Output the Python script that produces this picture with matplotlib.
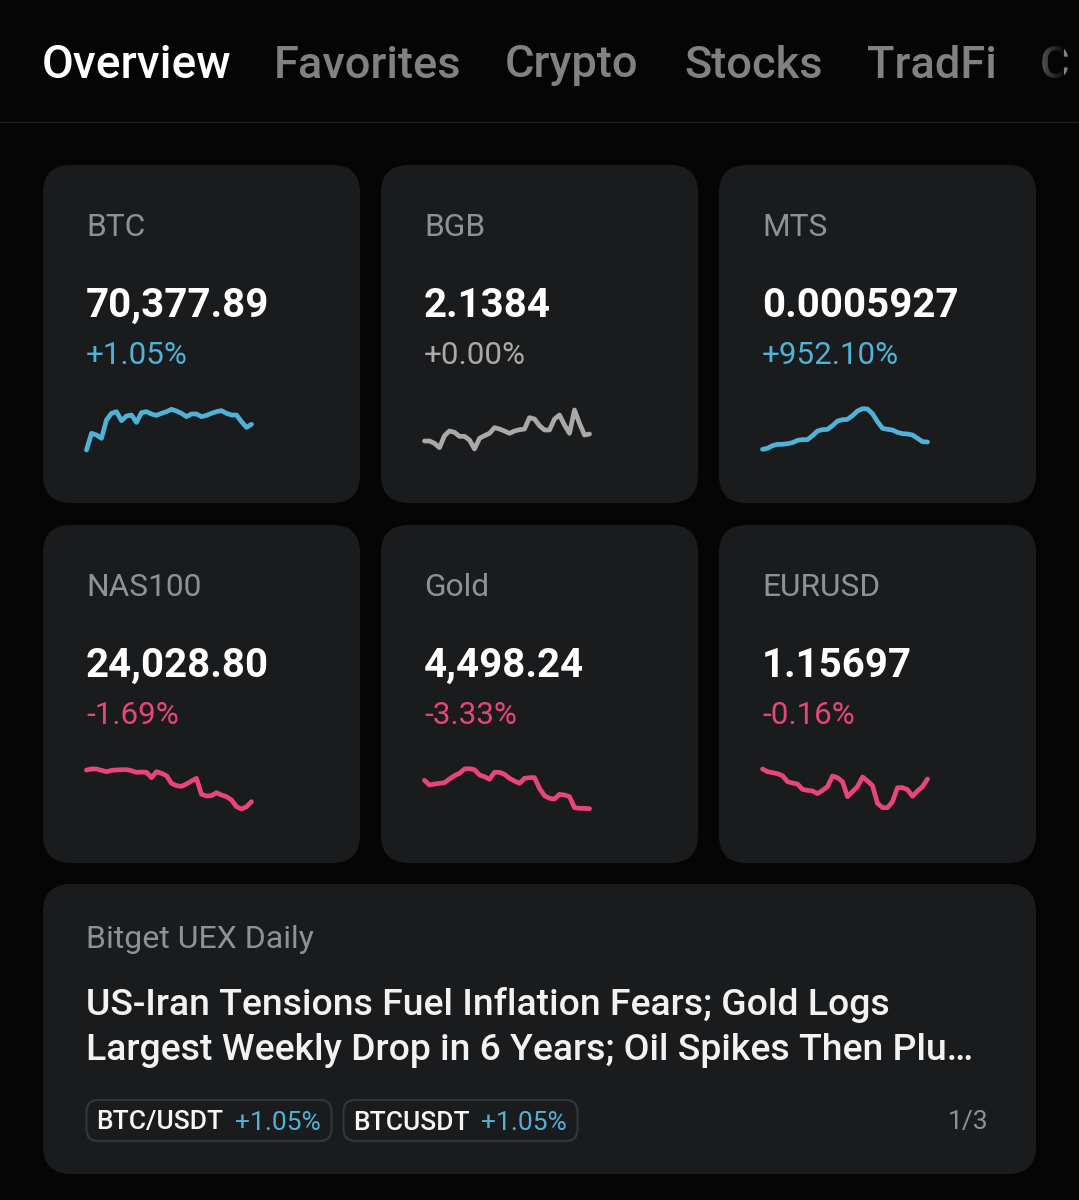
import matplotlib
matplotlib.use("Agg")
import matplotlib.pyplot as plt
from matplotlib.patches import FancyBboxPatch, Rectangle
import numpy as np

tabs = ["Overview", "Favorites", "Crypto", "Stocks", "TradFi", "C"]
symbols = ["BTC", "BGB", "MTS", "NAS100", "Gold", "EURUSD"]
prices = ["70,377.89", "2.1384", "0.0005927", "24,028.80", "4,498.24", "1.15697"]
changes = ["+1.05%", "+0.00%", "+952.10%", "-1.69%", "-3.33%", "-0.16%"]

btc = [30,80,75,65,120,140,145,118,132,135,113,142,145,138,134,140,145,152,147,140,130,138,138,130,134,140,145,148,140,135,135,115,98,107]
bgb = [57,57,50,37,73,87,83,71,71,60,33,65,73,80,97,93,87,80,87,91,93,127,123,103,90,90,123,135,105,80,150,110,75,78]
mts = [32,35,43,47,47,49,52,59,61,61,73,87,91,92,103,117,121,122,133,147,154,153,139,115,95,92,90,83,79,78,75,65,55,54]
nas = [150,153,153,149,145,149,150,151,151,148,143,144,143,127,145,140,133,110,103,101,108,117,125,77,72,73,82,75,70,60,40,33,40,55]
gold = [119,105,108,110,112,123,133,140,153,154,151,135,130,122,143,143,137,125,117,110,125,127,127,95,73,65,63,77,75,70,37,35,35,34]
eur = [153,145,142,139,133,115,111,108,92,89,87,79,89,100,132,127,115,70,85,100,129,117,103,50,37,37,55,97,97,91,71,87,100,123]
series = [btc, bgb, mts, nas, gold, eur]

news_source = "Bitget UEX Daily"
news_lines = ["US-Iran Tensions Fuel Inflation Fears; Gold Logs",
              "Largest Weekly Drop in 6 Years; Oil Spikes Then Plu…"]
pills = [("BTC/USDT", "+1.05%"), ("BTCUSDT", "+1.05%")]
pager = "1/3"

BG = "#050506"
CARD = "#1a1b1d"
BLUE = "#4fb2d6"
PINK = "#e8457b"
GREY = "#a9a9a9"
LABEL = "#909193"
TAB = "#808183"

plt.rcParams["font.family"] = ["Roboto", "DejaVu Sans"]
W, H = 1079, 1200
fig = plt.figure(figsize=(W / 100, H / 100), dpi=100, facecolor=BG)
ui = fig.add_axes([0, 0, 1, 1])
ui.set_xlim(0, W)
ui.set_ylim(H, 0)
ui.axis("off")


def card(x, y, w, h, r=28):
    ui.add_patch(FancyBboxPatch((x + r, y + r), w - 2 * r, h - 2 * r,
                                boxstyle=f"round,pad={r},rounding_size={r}",
                                fc=CARD, ec="none"))


# tabs
tab_x = [42, 274, 505, 684, 867, 1040]
for i, (t, x) in enumerate(zip(tabs, tab_x)):
    txt = ui.text(x, 65.5, t, fontsize=33.2 if i == 0 else 32.6, fontweight="medium",
                  va="center", color="white" if i == 0 else TAB)
    if t == "C":
        txt.set_clip_path(Rectangle((1030, 30), 32, 60, transform=ui.transData))
fade = np.zeros((1, 30, 4))
fade[..., :3] = matplotlib.colors.to_rgb(BG)
fade[..., 3] = np.linspace(0.2, 0.95, 30)
ui.imshow(fade, extent=(1034, 1064, 90, 30), aspect="auto", zorder=5)
ui.set_xlim(0, W)
ui.set_ylim(H, 0)
ui.plot([0, W], [121.5, 121.5], color="#1e1e20", lw=1)

# market cards
card_x = [43, 381, 719]
card_y = [165, 525]
for n, (sym, price, chg, vals) in enumerate(zip(symbols, prices, changes, series)):
    cx = card_x[n % 3]
    cy = card_y[n // 3]
    card(cx, cy, 317, 338)
    col = BLUE if chg[0] == "+" and chg != "+0.00%" else (GREY if chg == "+0.00%" else PINK)
    ui.text(cx + 43, cy + 63, sym, fontsize=22.8, color=LABEL, va="center")
    ui.text(cx + 43, cy + 141, price, fontsize=29, fontweight="semibold", color="white", va="center")
    ui.text(cx + 43, cy + 190, chg, fontsize=22.6, color=col, va="center")
    ax = fig.add_axes([(cx + 43.5) / W, 1 - (cy + 295) / H, 165 / W, 65 / H])
    ax.patch.set_alpha(0)
    ax.axis("off")
    ax.plot(np.arange(len(vals)), vals, color=col, lw=3.4,
            solid_capstyle="round", solid_joinstyle="round", clip_on=False)
    ax.set_xlim(0, len(vals) - 1)
    ax.set_ylim(0, 195)

# news card
card(43, 884, 993, 290)
ui.text(86, 940, news_source, fontsize=23, color=LABEL, va="center")
ui.text(86, 1005, news_lines[0], fontsize=26.9, fontweight="medium", color="#f2f2f2", va="center")
ui.text(86, 1050, news_lines[1], fontsize=26.9, fontweight="medium", color="#f2f2f2", va="center")

pill_x = [86.5, 343.5]
pill_w = [245, 234]
for (name, chg), x, w in zip(pills, pill_x, pill_w):
    ui.add_patch(FancyBboxPatch((x + 12, 1100 + 12), w - 24, 41 - 24,
                                boxstyle="round,pad=12,rounding_size=12",
                                fc=CARD, ec="#333538", lw=1.6))
    ui.text(x + 10, 1122.5, name, fontsize=19, fontweight="medium", color="#f5f5f5", va="center")
    ui.text(x + w - 11, 1122.5, chg, fontsize=19, color=BLUE, va="center", ha="right")
ui.text(988, 1122.5, pager, fontsize=19, color=LABEL, va="center", ha="right")

fig.savefig("out.png", dpi=100, facecolor=BG)
